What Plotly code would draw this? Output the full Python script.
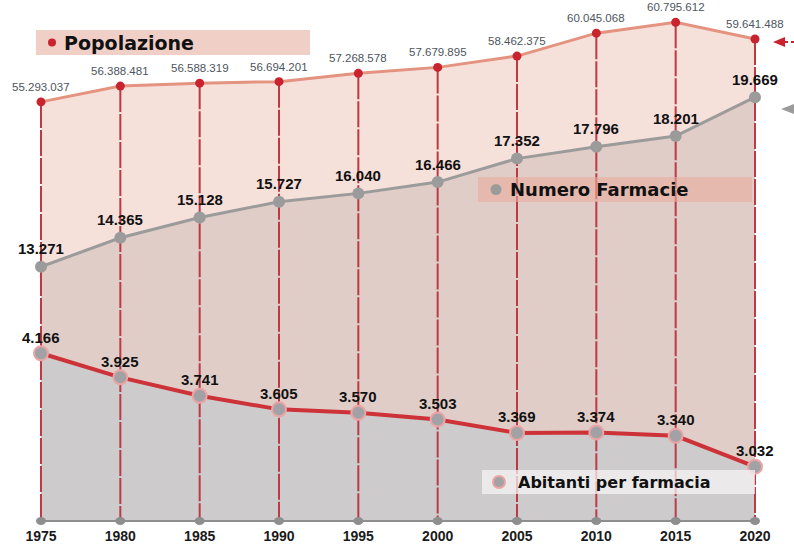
import plotly.graph_objects as go

# --- data -------------------------------------------------------------
anni = [1975, 1980, 1985, 1990, 1995, 2000, 2005, 2010, 2015, 2020]
etichette_anni = ["1975", "1980", "1985", "1990", "1995", "2000", "2005", "2010", "2015", "2020"]
popolazione = [55293037, 56388481, 56588319, 56694201, 57268578,
               57679895, 58462375, 60045068, 60795612, 59641488]
farmacie = [13271, 14365, 15128, 15727, 16040, 16466, 17352, 17796, 18201, 19669]
abitanti_per_farmacia = [4166, 3925, 3741, 3605, 3570, 3503, 3369, 3374, 3340, 3032]


def it(n):
    """Italian thousands separator."""
    return f"{n:,}".replace(",", ".")


# --- page geometry ----------------------------------------------------
W, H, B = 794, 555, 34
H_PLOT = H - B


def px(x):
    return x / W


def py(y):
    return 1 - y / H_PLOT


# x axis scale: first year near the left edge, last year near the right edge
ppy = (755 - 41) / (anni[-1] - anni[0])
x0 = anni[0] - 41 / ppy
x1 = x0 + W / ppy

# each series lives on its own hidden scale
R_POP = [26.309e6, 62.340e6]
R_FARM = [3677.0, 23337.3]
R_AB = [2488.5, 7698.5]

# --- colours ----------------------------------------------------------
POP_FILL = "#f6e0da"
FARM_FILL = "#e1cdc8"
AB_FILL = "#cdcbcc"
POP_LINE = "#e3937f"
POP_DOT = "#c8232e"
VERT = "#bb3a45"
FARM_LINE = "#9b9b9b"
AB_LINE = "#cc3238"
AB_DOT = "#a2a2a6"
AB_RING = "#eba4a4"

fig = go.Figure()

# filled areas (back to front)
fig.add_trace(go.Scatter(x=anni, y=popolazione, yaxis="y", mode="lines",
                         line=dict(width=0, color=POP_FILL),
                         fill="tozeroy", fillcolor=POP_FILL, hoverinfo="skip"))
fig.add_trace(go.Scatter(x=anni, y=farmacie, yaxis="y2", mode="lines",
                         line=dict(width=0, color=FARM_FILL),
                         fill="tozeroy", fillcolor=FARM_FILL, hoverinfo="skip"))
fig.add_trace(go.Scatter(x=anni, y=abitanti_per_farmacia, yaxis="y3", mode="lines",
                         line=dict(width=0, color=AB_FILL),
                         fill="tozeroy", fillcolor=AB_FILL, hoverinfo="skip"))

# vertical drop lines from each population point
vx, vy = [], []
for a, p in zip(anni, popolazione):
    vx += [a, a, None]
    vy += [p, 0, None]
fig.add_trace(go.Scatter(x=vx, y=vy, yaxis="y4", mode="lines",
                         line=dict(color=VERT, width=2, dash="26px,2px"),
                         hoverinfo="skip"))

# series lines
fig.add_trace(go.Scatter(x=anni, y=popolazione, yaxis="y4", mode="lines+markers",
                         line=dict(color=POP_LINE, width=3),
                         marker=dict(color=POP_DOT, size=9), name="Popolazione"))
fig.add_trace(go.Scatter(x=anni, y=farmacie, yaxis="y5", mode="lines+markers",
                         line=dict(color=FARM_LINE, width=3),
                         marker=dict(color=FARM_LINE, size=12), name="Numero Farmacie"))
fig.add_trace(go.Scatter(x=anni, y=abitanti_per_farmacia, yaxis="y6", mode="lines+markers",
                         line=dict(color=AB_LINE, width=4),
                         marker=dict(color=AB_DOT, size=14, line=dict(color=AB_RING, width=2)),
                         name="Abitanti per farmacia"))

# --- value labels -----------------------------------------------------
ann = []
for a, p, f, r in zip(anni, popolazione, farmacie, abitanti_per_farmacia):
    ann.append(dict(x=a, y=p, xref="x", yref="y4", text=it(p), showarrow=False,
                    yshift=15, font=dict(family="Liberation Sans, Arial",
                                         size=11.5, color="#4d5560")))
    ann.append(dict(x=a, y=f, xref="x", yref="y5", text=it(f), showarrow=False,
                    yshift=18, font=dict(family="Liberation Sans, Arial", size=15,
                                         color="#111111", weight="bold")))
    ann.append(dict(x=a, y=r, xref="x", yref="y6", text=it(r), showarrow=False,
                    yshift=16, font=dict(family="Liberation Sans, Arial", size=15,
                                         color="#111111", weight="bold")))

# --- legend boxes -----------------------------------------------------
shapes = []
legend_boxes = [
    # (x0, y0, x1, y1, fill, text, text_x, size, dot_x, dot_r, dot_fill, dot_line)
    (36, 30, 310, 55, "#f0cfc7", "Popolazione", 62, 19, 52, 4, POP_DOT, None),
    (478, 177, 752, 202, "rgba(232,172,156,0.6)", "Numero Farmacie", 508, 18, 496, 5.5, FARM_LINE, None),
    (482, 470, 755, 494, "rgba(246,244,245,0.72)", "Abitanti per farmacia", 516, 16, 499, 6, AB_DOT, AB_RING),
]
for bx0, by0, bx1, by1, fillc, txt, tx, fs, dx, dr, dfill, dline in legend_boxes:
    shapes.append(dict(type="rect", xref="paper", yref="paper",
                       x0=px(bx0), x1=px(bx1), y0=py(by1), y1=py(by0),
                       fillcolor=fillc, line=dict(width=0), layer="above"))
    cy = (by0 + by1) / 2
    shapes.append(dict(type="circle", xref="paper", yref="paper",
                       x0=px(dx - dr), x1=px(dx + dr), y0=py(cy + dr), y1=py(cy - dr),
                       fillcolor=dfill,
                       line=dict(width=2 if dline else 0, color=dline or dfill),
                       layer="above"))
    ann.append(dict(x=px(tx), y=py(cy), xref="paper", yref="paper", text=txt,
                    showarrow=False, xanchor="left", yanchor="middle",
                    font=dict(family="DejaVu Sans", size=fs, color="#111111", weight="bold")))

# --- baseline with year dots -----------------------------------------
shapes.append(dict(type="line", xref="x", yref="paper", x0=anni[0], x1=anni[-1],
                   y0=0, y1=0, line=dict(color="#8e8e8e", width=2), layer="above"))
for a in anni:
    shapes.append(dict(type="circle", xref="x", yref="paper", xsizemode="pixel",
                       ysizemode="pixel", xanchor=a, yanchor=0, x0=-5, x1=5, y0=-4, y1=4,
                       fillcolor="#8e8e8e", line=dict(width=0), layer="above"))

# --- pointers at the right edge --------------------------------------
shapes.append(dict(type="path", xref="paper", yref="paper",
                   path=f"M {px(773)} {py(42)} L {px(785)} {py(37)} L {px(785)} {py(47)} Z",
                   fillcolor="#c8232e", line=dict(width=0), layer="above"))
shapes.append(dict(type="line", xref="paper", yref="paper", x0=px(785), x1=px(794),
                   y0=py(42), y1=py(42), line=dict(color="#c8232e", width=2, dash="dot"),
                   layer="above"))
shapes.append(dict(type="path", xref="paper", yref="paper",
                   path=f"M {px(781)} {py(109)} L {px(794)} {py(104)} L {px(794)} {py(114)} Z",
                   fillcolor="#9b9b9b", line=dict(width=0), layer="above"))

hidden = dict(visible=False, fixedrange=True, showgrid=False, zeroline=False)
fig.update_layout(
    width=W, height=H,
    margin=dict(l=0, r=0, t=0, b=B),
    paper_bgcolor="white", plot_bgcolor="white",
    showlegend=False,
    xaxis=dict(range=[x0, x1], tickvals=anni, ticktext=etichette_anni,
               showgrid=False, zeroline=False, showline=False, ticks="",
               ticklabelstandoff=5, fixedrange=True,
               tickfont=dict(family="Liberation Sans, Arial",
                             size=14, color="#1a1a1a", weight="bold")),
    yaxis=dict(range=R_POP, **hidden),
    yaxis2=dict(range=R_FARM, overlaying="y", **hidden),
    yaxis3=dict(range=R_AB, overlaying="y", **hidden),
    yaxis4=dict(range=R_POP, overlaying="y", **hidden),
    yaxis5=dict(range=R_FARM, overlaying="y", **hidden),
    yaxis6=dict(range=R_AB, overlaying="y", **hidden),
    shapes=shapes,
    annotations=ann,
)

fig.write_html("out.html")
